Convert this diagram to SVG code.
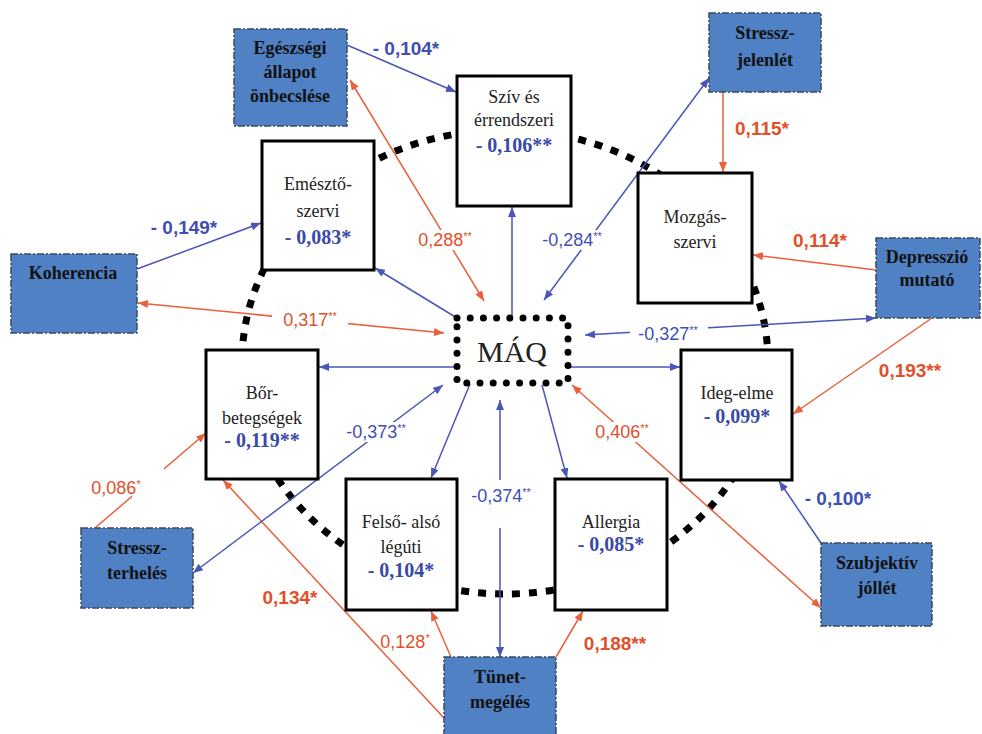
<svg xmlns="http://www.w3.org/2000/svg" width="982" height="734" viewBox="0 0 982 734">
<defs>
<style>
.bb{fill:#4f81c4;stroke:#3c4a5c;stroke-width:1.5;stroke-dasharray:7 2 2 2}
.wb{fill:#fff;stroke:#000;stroke-width:3}
.bt{font-family:"Liberation Serif",serif;font-weight:bold;font-size:18px;fill:#111;text-anchor:middle}
.wt{font-family:"Liberation Serif",serif;font-size:18px;fill:#222;text-anchor:middle}
.wv{font-family:"Liberation Serif",serif;font-weight:bold;font-size:20px;fill:#3a4aa8;text-anchor:middle}
.lb{stroke:#4a55b8;stroke-width:1.5;fill:none}
.lr{stroke:#e8603c;stroke-width:1.5;fill:none}
.gb{font-family:"Liberation Sans",sans-serif;font-weight:bold;font-size:19px;fill:#3f4fb3;text-anchor:middle}
.gr{font-family:"Liberation Sans",sans-serif;font-weight:bold;font-size:19px;fill:#e2502a;text-anchor:middle}
.sb{font-family:"Liberation Sans",sans-serif;font-size:18px;fill:#3f4fb3;text-anchor:middle}
.sr{font-family:"Liberation Sans",sans-serif;font-size:18px;fill:#e2502a;text-anchor:middle}
.bg{fill:#fff}
</style>
<marker id="mb" viewBox="0 0 10 8" refX="10" refY="4" markerWidth="10" markerHeight="8" markerUnits="userSpaceOnUse" orient="auto-start-reverse"><path d="M0,0 L10,4 L0,8 z" fill="#4a55b8"/></marker>
<marker id="mr" viewBox="0 0 10 8" refX="10" refY="4" markerWidth="10" markerHeight="8" markerUnits="userSpaceOnUse" orient="auto-start-reverse"><path d="M0,0 L10,4 L0,8 z" fill="#e8603c"/></marker>
</defs>
<rect width="982" height="734" fill="#fff"/>
<ellipse id="ring" cx="505" cy="362" rx="263" ry="232" fill="none" stroke="#000" stroke-width="7" stroke-dasharray="8 9"/>
<g id="connectors">
<line class="lb" x1="347" y1="45" x2="456" y2="92" marker-end="url(#mb)"/>
<line class="lb" x1="137" y1="269" x2="261" y2="223" marker-end="url(#mb)"/>
<line class="lr" x1="723" y1="92" x2="723" y2="172" marker-end="url(#mr)"/>
<line class="lr" x1="876" y1="270" x2="753" y2="255" marker-end="url(#mr)"/>
<line class="lr" x1="932" y1="318" x2="793" y2="414" marker-end="url(#mr)"/>
<line class="lb" x1="821" y1="543" x2="779" y2="481" marker-end="url(#mb)"/>
<line class="lr" x1="95" y1="528" x2="206" y2="433" marker-end="url(#mr)"/>
<line class="lr" x1="444" y1="718" x2="223" y2="480" marker-end="url(#mr)"/>
<line class="lr" x1="451" y1="657" x2="431" y2="611" marker-end="url(#mr)"/>
<line class="lr" x1="556" y1="657" x2="583" y2="611" marker-end="url(#mr)"/>
<line class="lb" x1="457" y1="318" x2="375" y2="268" marker-end="url(#mb)"/>
<line class="lb" x1="512" y1="318" x2="512" y2="207" marker-end="url(#mb)"/>
<line class="lb" x1="457" y1="367" x2="319" y2="367" marker-end="url(#mb)"/>
<line class="lb" x1="568" y1="367" x2="680" y2="367" marker-end="url(#mb)"/>
<line class="lb" x1="470" y1="384" x2="431" y2="478" marker-end="url(#mb)"/>
<line class="lb" x1="542" y1="385" x2="567" y2="478" marker-end="url(#mb)"/>
<line class="lr" x1="350" y1="80" x2="484" y2="301" marker-start="url(#mr)" marker-end="url(#mr)"/>
<line class="lr" x1="138" y1="303" x2="444" y2="333" marker-start="url(#mr)" marker-end="url(#mr)"/>
<line class="lb" x1="709" y1="78" x2="544" y2="300" marker-start="url(#mb)" marker-end="url(#mb)"/>
<line class="lb" x1="876" y1="318" x2="585" y2="335" marker-start="url(#mb)" marker-end="url(#mb)"/>
<line class="lr" x1="821" y1="608" x2="572" y2="385" marker-start="url(#mr)" marker-end="url(#mr)"/>
<line class="lb" x1="193" y1="573" x2="443" y2="385" marker-start="url(#mb)" marker-end="url(#mb)"/>
<line class="lb" x1="500" y1="657" x2="500" y2="400" marker-start="url(#mb)" marker-end="url(#mb)"/>
<rect class="bg" x="412" y="230" width="66" height="20"/>
<rect class="bg" x="533" y="230" width="79" height="20"/>
<rect class="bg" x="272" y="310" width="76" height="20"/>
<rect class="bg" x="630" y="324" width="78" height="20"/>
<rect class="bg" x="590" y="422" width="66" height="20"/>
<rect class="bg" x="340" y="422" width="73" height="20"/>
<rect class="bg" x="465" y="480" width="73" height="48"/>
<rect class="bg" x="132" y="468" width="32" height="30"/>
<text class="gb" x="406" y="55">- 0,104*</text>
<text class="gb" x="184" y="234">- 0,149*</text>
<text class="gr" x="762" y="135">0,115*</text>
<text class="gr" x="820" y="247">0,114*</text>
<text class="gr" x="910" y="377">0,193**</text>
<text class="gb" x="838" y="505">- 0,100*</text>
<text class="gr" x="290" y="604">0,134*</text>
<text class="gr" x="615" y="650">0,188**</text>
<text class="sr" x="445" y="246">0,288<tspan font-size="11" dy="-6">**</tspan></text>
<text class="sb" x="572" y="246">-0,284<tspan font-size="11" dy="-6">**</tspan></text>
<text class="sr" x="310" y="326">0,317<tspan font-size="11" dy="-6">**</tspan></text>
<text class="sb" x="668" y="340">-0,327<tspan font-size="11" dy="-6">**</tspan></text>
<text class="sr" x="622" y="438">0,406<tspan font-size="11" dy="-6">**</tspan></text>
<text class="sb" x="376" y="438">-0,373<tspan font-size="11" dy="-6">**</tspan></text>
<text class="sb" x="501" y="502">-0,374<tspan font-size="11" dy="-6">**</tspan></text>
<text class="sr" x="116" y="494" font-size="17">0,086<tspan font-size="11" dy="-6">*</tspan></text>
<text class="sr" x="405" y="648" font-size="17">0,128<tspan font-size="11" dy="-6">*</tspan></text>
</g>
<g id="n-egeszseg"><rect class="bb" x="234" y="29" width="113" height="97"/><text class="bt" x="290" y="54">Egészségi</text><text class="bt" x="290" y="78">állapot</text><text class="bt" x="290" y="102">önbecslése</text></g>
<g id="n-stresszjelen"><rect class="bb" x="709" y="13" width="112" height="79"/><text class="bt" x="765" y="39">Stressz-</text><text class="bt" x="765" y="66">jelenlét</text></g>
<g id="n-depresszio"><rect class="bb" x="876" y="238" width="104" height="80"/><text class="bt" x="927" y="263">Depresszió</text><text class="bt" x="927" y="286">mutató</text></g>
<g id="n-koherencia"><rect class="bb" x="11" y="254" width="126" height="79"/><text class="bt" x="73" y="279">Koherencia</text></g>
<g id="n-stresszterh"><rect class="bb" x="81" y="528" width="112" height="80"/><text class="bt" x="137" y="554">Stressz-</text><text class="bt" x="137" y="579">terhelés</text></g>
<g id="n-tunet"><rect class="bb" x="444" y="657" width="112" height="90"/><text class="bt" x="500" y="683">Tünet-</text><text class="bt" x="500" y="708">megélés</text></g>
<g id="n-szubj"><rect class="bb" x="821" y="543" width="111" height="83"/><text class="bt" x="877" y="569">Szubjektív</text><text class="bt" x="877" y="594">jóllét</text></g>
<g id="n-sziv"><rect class="wb" x="457" y="76" width="114" height="130"/><text class="wt" x="514" y="103">Szív és</text><text class="wt" x="514" y="126">érrendszeri</text><text class="wv" x="514" y="152">- 0,106**</text></g>
<g id="n-emeszto"><rect class="wb" x="262" y="141" width="112" height="129"/><text class="wt" x="318" y="190" font-size="20">Emésztő-</text><text class="wt" x="318" y="217" font-size="20">szervi</text><text class="wv" x="318" y="244">- 0,083*</text></g>
<g id="n-mozgas"><rect class="wb" x="638" y="173" width="114" height="130"/><text class="wt" x="695" y="223">Mozgás-</text><text class="wt" x="695" y="248">szervi</text></g>
<g id="n-bor"><rect class="wb" x="206" y="350" width="112" height="129"/><text class="wt" x="262" y="399">Bőr-</text><text class="wt" x="262" y="424">betegségek</text><text class="wv" x="262" y="447">- 0,119**</text></g>
<g id="n-felso"><rect class="wb" x="346" y="479" width="111" height="131"/><text class="wt" x="401" y="528">Felső- alsó</text><text class="wt" x="401" y="553">légúti</text><text class="wv" x="401" y="577">- 0,104*</text></g>
<g id="n-allergia"><rect class="wb" x="555" y="479" width="112" height="131"/><text class="wt" x="611" y="528">Allergia</text><text class="wv" x="611" y="551">- 0,085*</text></g>
<g id="n-ideg"><rect class="wb" x="681" y="350" width="111" height="130"/><text class="wt" x="737" y="399">Ideg-elme</text><text class="wv" x="737" y="423">- 0,099*</text></g>
<g id="n-maq"><rect x="457" y="318" width="111" height="65" fill="#fff" stroke="#000" stroke-width="7" stroke-dasharray="0 13.2" stroke-linecap="round"/><text x="512" y="362" font-family="Liberation Serif,serif" font-size="30" fill="#222" text-anchor="middle">MÁQ</text></g>
</svg>
